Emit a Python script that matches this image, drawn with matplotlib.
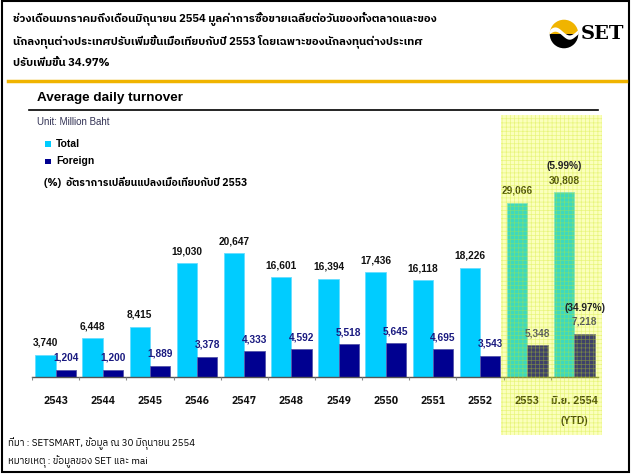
import matplotlib
matplotlib.use('Agg')
import matplotlib.pyplot as plt
from matplotlib import font_manager
from matplotlib.ft2font import FT2Font
from matplotlib.patches import Rectangle, Wedge, Circle, Polygon
from matplotlib.lines import Line2D
import numpy as np

# data
years = ['2543', '2544', '2545', '2546', '2547', '2548', '2549', '2550', '2551', '2552', '2553', 'มิ.ย. 2554']
total = [3740, 6448, 8415, 19030, 20647, 16601, 16394, 17436, 16118, 18226, 29066, 30808]
foreign = [1204, 1200, 1889, 3378, 4333, 4592, 5518, 5645, 4695, 3543, 5348, 7218]
pct_total = '(5.99%)'
pct_foreign = '(34.97%)'

header_lines = [
    'ช่วงเดือนมกราคมถึงเดือนมิถุนายน 2554 มูลค่าการซื้อขายเฉลี่ยต่อวันของทั้งตลาดและของ',
    'นักลงทุนต่างประเทศปรับเพิ่มขึ้นเมื่อเทียบกับปี 2553 โดยเฉพาะของนักลงทุนต่างประเทศ',
    'ปรับเพิ่มขึ้น 34.97%',
]
footer_lines = [
    'ที่มา : SETSMART, ข้อมูล ณ 30 มิถุนายน 2554',
    'หมายเหตุ : ข้อมูลของ SET และ mai',
]
legend_note = '(%)  อัตราการเปลี่ยนแปลงเมื่อเทียบกับปี 2553'


# find something that can draw Thai
def find_thai_font():
    preferred = ['thai', 'loma', 'garuda', 'tlwg', 'sarabun', 'norasi', 'kinnari', 'waree', 'umpush']
    found = []
    for f in font_manager.fontManager.ttflist:
        try:
            if 0x0E01 in FT2Font(f.fname).get_charmap():
                found.append(f.name)
        except Exception:
            pass
    for p in preferred:
        for name in found:
            if p in name.lower():
                return name
    return found[0] if found else None


thai = find_thai_font()
latin = 'Liberation Sans'
fams = [thai, latin] if thai else [latin, 'DejaVu Sans']
plt.rcParams['font.family'] = fams
plt.rcParams['hatch.linewidth'] = 0.5

W, H = 633, 476
fig = plt.figure(figsize=(W / 100, H / 100), dpi=100)


def px(x, y):
    return x / W, 1 - y / H


# frame and header
fig.add_artist(Rectangle(px(2, 472), 627 / W, 471 / H, transform=fig.transFigure,
                         fill=False, edgecolor='black', linewidth=1.5))
fig.add_artist(Line2D([8 / W, 626 / W], [1 - 80.5 / H] * 2, transform=fig.transFigure,
                      color='#f0b400', linewidth=2.5))
for i, line in enumerate(header_lines):
    fig.text(*px(13, 19 + i * 22), line, fontsize=8.1, fontweight='bold', va='center', ha='left')

# SET logo
logo = fig.add_axes([548 / W, 1 - 49 / H, 32 / W, 30 / H])
logo.set_xlim(-1.05, 1.05)
logo.set_ylim(-1.05, 1.05)
logo.set_aspect('equal')
logo.axis('off')
logo.add_patch(Wedge((0, 0), 1, 0, 180, facecolor='#f0b400', edgecolor='none'))
logo.add_patch(Wedge((0, 0), 1, 180, 360, facecolor='black', edgecolor='none'))
xs = np.linspace(-1.1, 1.1, 60)
up = 0.18 - 0.28 * np.sin(np.pi * (xs + 0.1))
lo = -0.12 - 0.28 * np.sin(np.pi * (xs + 0.1))
band = Polygon(np.column_stack([np.r_[xs, xs[::-1]], np.r_[up, lo[::-1]]]),
               facecolor='white', edgecolor='none')
logo.add_patch(band)
band.set_clip_path(Circle((0, 0), 1, transform=logo.transData))
fig.text(*px(602, 34), 'SET', family='DejaVu Serif', fontweight='bold', fontsize=14,
         ha='center', va='center')

# chart title block
fig.text(*px(37, 98), 'Average daily turnover', fontsize=9.7, fontweight='bold',
         family=latin, va='center', ha='left')
fig.add_artist(Line2D([29 / W, 598 / W], [1 - 110 / H] * 2, transform=fig.transFigure,
                      color='black', linewidth=1.2))
fig.text(*px(37, 122), 'Unit: Million Baht', fontsize=7, family=latin, color='#333355', va='center')
fig.add_artist(Rectangle(px(45, 147), 6 / W, 6 / H, transform=fig.transFigure,
                         facecolor='#00ccff', edgecolor='none'))
fig.text(*px(56, 144), 'Total', fontsize=7.5, fontweight='bold', family=latin, va='center')
fig.add_artist(Rectangle(px(45, 164), 6 / W, 5 / H, transform=fig.transFigure,
                         facecolor='#000090', edgecolor='none'))
fig.text(*px(56, 161), 'Foreign', fontsize=7.5, fontweight='bold', family=latin, va='center')
fig.text(*px(44, 182), legend_note, fontsize=7.5, fontweight='bold', va='center')

# footer
for i, line in enumerate(footer_lines):
    fig.text(*px(8, 444 + i * 18), line, fontsize=7, va='center')

# the bar chart
ax = fig.add_axes([32 / W, 1 - 435 / H, 566 / W, 320 / H])
ax.axis('off')
ppk = 6.0  # pixels per 1000 baht
ax.set_xlim(-0.5, len(years) - 0.5)
ax.set_ylim(-(435 - 377) / ppk * 1000, (377 - 115) / ppk * 1000)

idx = np.arange(len(years))
bw = 0.43
ax.bar(idx - bw / 2, total, bw, color='#00ccff', edgecolor='#66ddff', linewidth=0.6, zorder=2)
ax.bar(idx + bw / 2, foreign, bw, color='#000090', edgecolor='#5555aa', linewidth=0.6, zorder=2)

lab = dict(textcoords='offset points', ha='center', va='center', fontsize=7.3,
           fontweight='bold', family=latin, zorder=3)
for i in idx:
    ax.annotate(f'{total[i]:,}', (i - bw / 2, total[i]), xytext=(0, 8.5), color='#111111', **lab)
    ax.annotate(f'{foreign[i]:,}', (i + bw / 2, foreign[i]), xytext=(0, 8.5), color='#1a1a80', **lab)
    ax.text(i, -(400.7 - 377) / ppk * 1000, years[i], ha='center', va='center',
            fontsize=7.5, fontweight='bold', color='#111111', zorder=3)

last = len(years) - 1
pct = dict(lab, zorder=6)
ax.annotate(pct_total, (last - bw / 2, total[last]), xytext=(0, 18.5), color='#222222', **pct)
ax.annotate(pct_foreign, (last + bw / 2, foreign[last]), xytext=(0, 18.5), color='#222222', **pct)
ax.text(last, -(421 - 377) / ppk * 1000, '(YTD)', ha='center', va='center',
        fontsize=7.5, fontweight='bold', family=latin, color='#111111', zorder=3)

# baseline with little ticks between the years
ax.plot([-0.5, len(years) - 0.5], [0, 0], color='#555555', linewidth=1, zorder=2, clip_on=False)
ax.vlines(np.arange(-0.5, len(years)), -550, 0, color='#888888', linewidth=0.8, zorder=2)

# yellow highlight over the last two periods
y0, y1 = ax.get_ylim()
ax.add_patch(Rectangle((9.44, y0), 2.14, y1 - y0, facecolor=(0.95, 1, 0, 0.26),
                       edgecolor=(0.8, 0.9, 0.1, 0.4), hatch='++++', linewidth=0,
                       zorder=5, clip_on=False))

fig.savefig('out.png', dpi=100)
